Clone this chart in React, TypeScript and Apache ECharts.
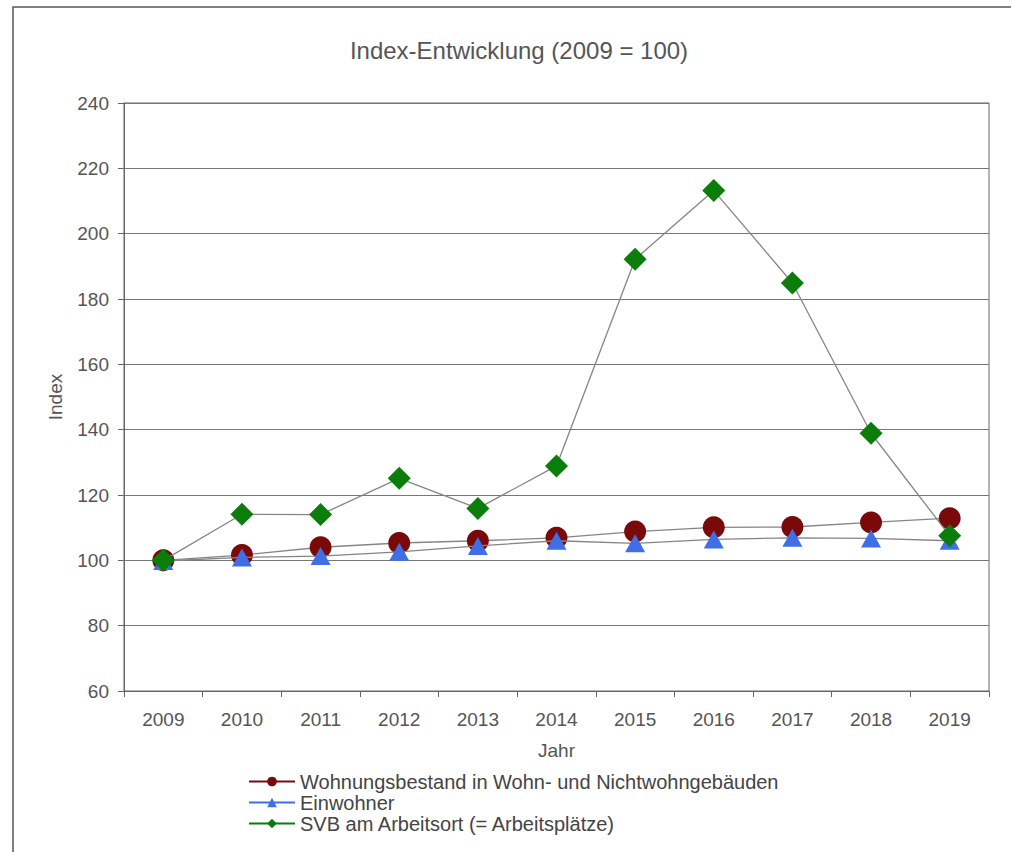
import React, { useEffect, useRef } from "react";
import * as echarts from "echarts";

const years = ["2009", "2010", "2011", "2012", "2013", "2014", "2015", "2016", "2017", "2018", "2019"];
const wohnungen = [100, 101.6, 104, 105.3, 106, 106.9, 108.8, 110.1, 110.2, 111.6, 112.9];
const einwohner = [99.8, 100.9, 101.3, 102.6, 104.4, 106, 105.2, 106.4, 106.9, 106.7, 106];
const svb = [100, 114.1, 114, 125.1, 115.9, 128.9, 192.2, 213.2, 184.9, 138.9, 107.5];

const names = [
  "Wohnungsbestand in Wohn- und Nichtwohngebäuden",
  "Einwohner",
  "SVB am Arbeitsort (= Arbeitsplätze)",
];
const colors = ["#7a0a0a", "#3f6fe6", "#0a7d0a"];

export default function App() {
  const ref = useRef<HTMLDivElement>(null);
  useEffect(() => {
    if (!ref.current) return;
    const chart = echarts.init(ref.current, undefined, { renderer: "svg" });
    const font = "'Liberation Sans', Arial, sans-serif";
    const lineGray = "#858585";
    chart.setOption({
      animation: false,
      backgroundColor: "#ffffff",
      textStyle: { fontFamily: font },
      title: {
        text: "Index-Entwicklung (2009 = 100)",
        left: 514,
        top: 33,
        textAlign: "center",
        textStyle: { fontSize: 24, fontWeight: "normal", color: "#555555", fontFamily: font },
      },
      graphic: [
        {
          type: "rect",
          shape: { x: 13, y: 7, width: 1200, height: 1000 },
          style: { fill: "none", stroke: "#555555", lineWidth: 1.5 },
          silent: true,
          z: -1,
        },
      ],
      legend: {
        orient: "vertical",
        left: 243,
        top: 766,
        itemWidth: 46,
        itemHeight: 12,
        itemGap: 0,
        textStyle: { fontSize: 20, color: "#444444", lineHeight: 21, fontFamily: font },
        data: names.map((n, i) => ({
          name: n,
          itemStyle: { color: colors[i] },
          lineStyle: { color: colors[i], width: 2 },
        })),
      },
      grid: {
        left: 124,
        right: 22,
        top: 103,
        bottom: 161,
        show: true,
        borderColor: "#666666",
        borderWidth: 1,
      },
      xAxis: {
        type: "category",
        data: years,
        boundaryGap: true,
        name: "Jahr",
        nameLocation: "middle",
        nameGap: 50,
        nameTextStyle: { fontSize: 19, color: "#555555", fontFamily: font },
        axisLine: { lineStyle: { color: "#666666", width: 1 } },
        axisTick: { show: true, inside: false, length: 6, alignWithLabel: false, lineStyle: { color: "#666666" } },
        axisLabel: { fontSize: 19, color: "#555555", margin: 19, interval: 0, fontFamily: font },
        splitLine: { show: false },
      },
      yAxis: {
        type: "value",
        min: 60,
        max: 240,
        interval: 20,
        name: "Index",
        nameLocation: "middle",
        nameGap: 59,
        nameTextStyle: { fontSize: 19, color: "#555555", fontFamily: font },
        axisLine: { show: true, lineStyle: { color: "#666666", width: 1 } },
        axisTick: { show: true, inside: false, length: 6, lineStyle: { color: "#666666" } },
        axisLabel: { fontSize: 19, color: "#555555", margin: 15, fontFamily: font },
        splitLine: { show: true, lineStyle: { color: "#777777", width: 1 } },
      },
      series: [
        {
          name: names[0],
          type: "line",
          data: wohnungen,
          symbol: "circle",
          symbolSize: 22,
          itemStyle: { color: colors[0] },
          lineStyle: { color: lineGray, width: 1.3 },
          z: 2,
        },
        {
          name: names[1],
          type: "line",
          data: einwohner,
          symbol: "triangle",
          symbolSize: [20, 18],
          itemStyle: { color: colors[1] },
          lineStyle: { color: lineGray, width: 1.3 },
          z: 3,
        },
        {
          name: names[2],
          type: "line",
          data: svb,
          symbol: "diamond",
          symbolSize: 23,
          itemStyle: { color: colors[2] },
          lineStyle: { color: lineGray, width: 1.3 },
          z: 4,
        },
      ],
    });
    return () => chart.dispose();
  }, []);
  return (
    <div
      ref={ref}
      style={{ position: "fixed", left: 0, top: 0, width: 1011, height: 852, background: "#fff" }}
    />
  );
}
